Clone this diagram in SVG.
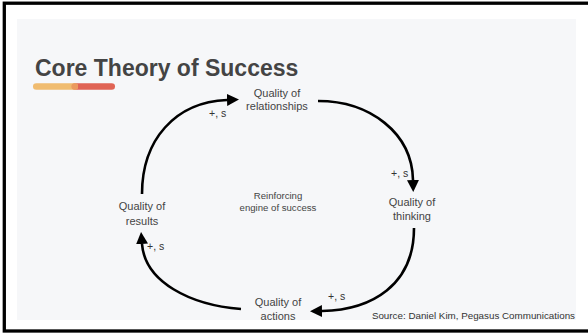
<svg xmlns="http://www.w3.org/2000/svg" width="588" height="335" viewBox="0 0 588 335">
  <style>
    .node { font-family: "Liberation Sans", Arial, sans-serif; font-size: 11px; fill: #444; text-anchor: middle; }
    .lbl { font-family: "Liberation Sans", Arial, sans-serif; font-size: 10.5px; fill: #333; }
    .center { font-family: "Liberation Sans", Arial, sans-serif; font-size: 9.6px; fill: #444; text-anchor: middle; }
    .arc { fill: none; stroke: #000; stroke-width: 2.6; }
  </style>
  <defs>
    <marker id="ah" markerWidth="12" markerHeight="12" refX="0" refY="6" orient="auto" markerUnits="userSpaceOnUse">
      <path d="M0,0 L12,6 L0,12 z" fill="#000"/>
    </marker>
  </defs>
  <rect x="0" y="0" width="588" height="335" fill="#fff"/>
  <rect x="4.3" y="3.2" width="620" height="327.8" fill="#fff" stroke="#000" stroke-width="3.3"/>
  <rect x="17" y="19" width="559" height="301" fill="#F6F7F9"/>

  <g id="title">
    <text x="35" y="76" font-family="Liberation Sans, Arial, sans-serif" font-size="23" font-weight="bold" fill="#444">Core Theory of Success</text>
    <rect x="72" y="83.2" width="43" height="6.6" rx="3.3" fill="#E06455"/>
    <rect x="33" y="83.2" width="45" height="6.6" rx="3.3" fill="#F0BC70"/>
    <circle cx="74.7" cy="86.5" r="3.3" fill="#EB9A5E"/>
  </g>

  <g id="connectors">
    <path class="arc" d="M142,194 C142,140 175,102 227,100" marker-end="url(#ah)"/>
    <path class="arc" d="M318,101 C370,101 412,133 413,180" marker-end="url(#ah)"/>
    <path class="arc" d="M414,228 C414,285 372,310 322,311" marker-end="url(#ah)"/>
    <path class="arc" d="M241,309 C190,305 145,282 142,244" marker-end="url(#ah)"/>
    <text class="lbl" x="209" y="117">+, s</text>
    <text class="lbl" x="391" y="177">+, s</text>
    <text class="lbl" x="147" y="250">+, s</text>
    <text class="lbl" x="328" y="300">+, s</text>
  </g>

  <g id="relationships">
    <text class="node" x="277" y="97">Quality of</text>
    <text class="node" x="277" y="110">relationships</text>
  </g>
  <g id="thinking">
    <text class="node" x="412" y="206">Quality of</text>
    <text class="node" x="412" y="220">thinking</text>
  </g>
  <g id="actions">
    <text class="node" x="278" y="306">Quality of</text>
    <text class="node" x="278" y="320">actions</text>
  </g>
  <g id="results">
    <text class="node" x="142" y="210">Quality of</text>
    <text class="node" x="142" y="224.5">results</text>
  </g>
  <g id="engine">
    <text class="center" x="278" y="198.5">Reinforcing</text>
    <text class="center" x="278" y="210.5">engine of success</text>
  </g>
  <g id="source">
    <text x="575" y="319" font-family="Liberation Sans, Arial, sans-serif" font-size="9.8" fill="#333" text-anchor="end">Source: Daniel Kim, Pegasus Communications</text>
  </g>
</svg>
